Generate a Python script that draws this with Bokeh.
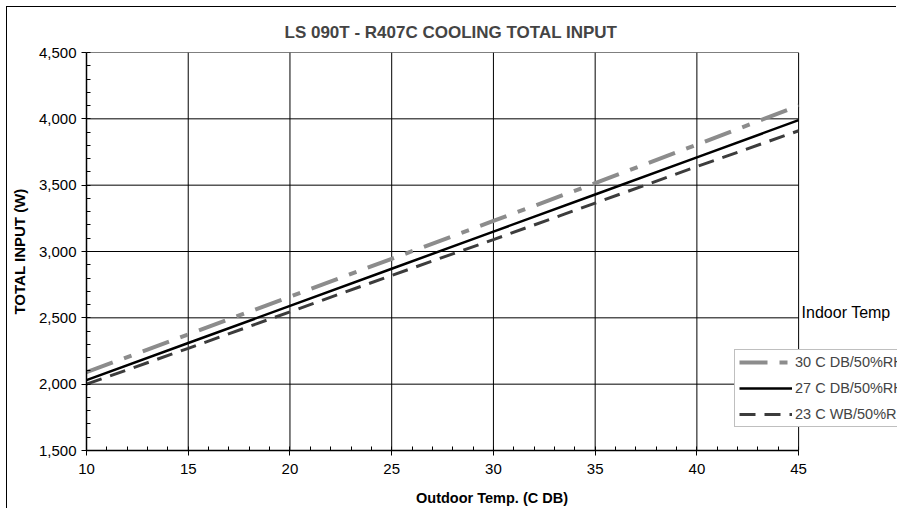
from bokeh.plotting import figure
from bokeh.models import (Range1d, NumeralTickFormatter, FixedTicker, Legend, LegendItem, Label)
from bokeh.embed import file_html
from bokeh.resources import INLINE

outdoor_temp = [10, 15, 20, 25, 30, 35, 40, 45]
input_30c_db = [2090, 2375, 2660, 2945, 3230, 3515, 3805, 4100]
input_27c_db = [2030, 2310, 2590, 2870, 3150, 3430, 3710, 3990]
input_23c_wb = [2000, 2270, 2545, 2820, 3090, 3365, 3640, 3910]
series_labels = ["30 C DB/50%RH", "27 C DB/50%RH", "23 C WB/50%RH"]
x_ticks = [10, 15, 20, 25, 30, 35, 40, 45]
y_ticks = [1500, 2000, 2500, 3000, 3500, 4000, 4500]

FONT = "Liberation Sans"
X0, X1 = x_ticks[0], x_ticks[-1]
Y0, Y1 = y_ticks[0], y_ticks[-1]

W, LEFT = 890, 78
# frame extends past the 45 mark so the legend and note are not clipped
x_view_end = X0 + (X1 - X0) * (W - LEFT) / 713

p = figure(width=W, height=502, output_backend="svg", toolbar_location=None,
           x_range=Range1d(X0, x_view_end), y_range=Range1d(Y0, Y1),
           min_border_left=LEFT, min_border_right=0, min_border_top=45, min_border_bottom=59,
           title="LS 090T - R407C  COOLING TOTAL INPUT")
p.styles = {"border-left": "1px solid black", "border-top": "1px solid black",
            "margin-left": "6px", "margin-top": "6px"}

p.title.align = "left"
p.title.offset = 198
p.title.text_font = FONT
p.title.text_font_size = "17px"
p.title.text_font_style = "bold"
p.title.standoff = 21

p.outline_line_color = None
p.background_fill_color = "white"
p.border_fill_color = "white"
p.xgrid.visible = False
p.ygrid.visible = False

# grid lines and plot-area box drawn from the tick lists
p.segment(x0=x_ticks, y0=[Y0] * len(x_ticks), x1=x_ticks, y1=[Y1] * len(x_ticks),
          line_color="black", line_width=1)
p.segment(x0=[X0] * len(y_ticks), y0=y_ticks, x1=[X1] * len(y_ticks), y1=y_ticks,
          line_color="black", line_width=1)

for ax in (p.xaxis[0], p.yaxis[0]):
    ax.axis_line_color = "black"
    ax.axis_line_width = 1.5
    ax.major_tick_line_color = "black"
    ax.minor_tick_line_color = "black"
    ax.major_tick_in = 0
    ax.major_tick_out = 5
    ax.minor_tick_in = 4
    ax.minor_tick_out = 0
    ax.major_label_text_font = FONT
    ax.major_label_text_font_size = "15px"
    ax.major_label_text_color = "black"
    ax.axis_label_text_font = FONT
    ax.axis_label_text_font_style = "bold"
    ax.axis_label_text_color = "black"

p.xaxis.bounds = (X0, X1)
p.xaxis.ticker = FixedTicker(ticks=x_ticks, minor_ticks=list(range(X0, X1 + 1)))
p.yaxis.ticker = FixedTicker(ticks=y_ticks, minor_ticks=list(range(Y0, Y1 + 1, 100)))
p.yaxis.formatter = NumeralTickFormatter(format="0,0")
p.xaxis.axis_label = "Outdoor Temp. (C DB)"
p.yaxis.axis_label = "TOTAL INPUT (W)"
p.xaxis.axis_label_text_font_size = "14.5px"
p.yaxis.axis_label_text_font_size = "15px"
p.xaxis.major_label_standoff = 8
p.yaxis.major_label_standoff = 5
p.xaxis.axis_label_standoff = 13
p.yaxis.axis_label_standoff = 8

r1 = p.line(outdoor_temp, input_30c_db, line_color="#8c8c8c", line_width=4, line_dash="28 12 8 12")
r2 = p.line(outdoor_temp, input_27c_db, line_color="black", line_width=2.5)
r3 = p.line(outdoor_temp, input_23c_wb, line_color="#3c3c3c", line_width=3, line_dash="16 9")

legend = Legend(items=[LegendItem(label=series_labels[0], renderers=[r1]),
                       LegendItem(label=series_labels[1], renderers=[r2]),
                       LegendItem(label=series_labels[2], renderers=[r3])],
                location=(648, 23), orientation="vertical",
                label_text_font=FONT, label_text_font_size="14.5px",
                label_height=16, glyph_height=16, glyph_width=53,
                spacing=10, padding=4, margin=0, label_standoff=3,
                border_line_color="#808080", border_line_width=1.5,
                background_fill_color="white", background_fill_alpha=1)
p.add_layout(legend, "center")

p.add_layout(Label(x=X1, y=2540, text="Indoor Temp", x_offset=3, text_font=FONT,
                   text_font_size="16px", text_baseline="middle", text_color="black"))

open("out.html", "w").write(file_html(p, INLINE))
